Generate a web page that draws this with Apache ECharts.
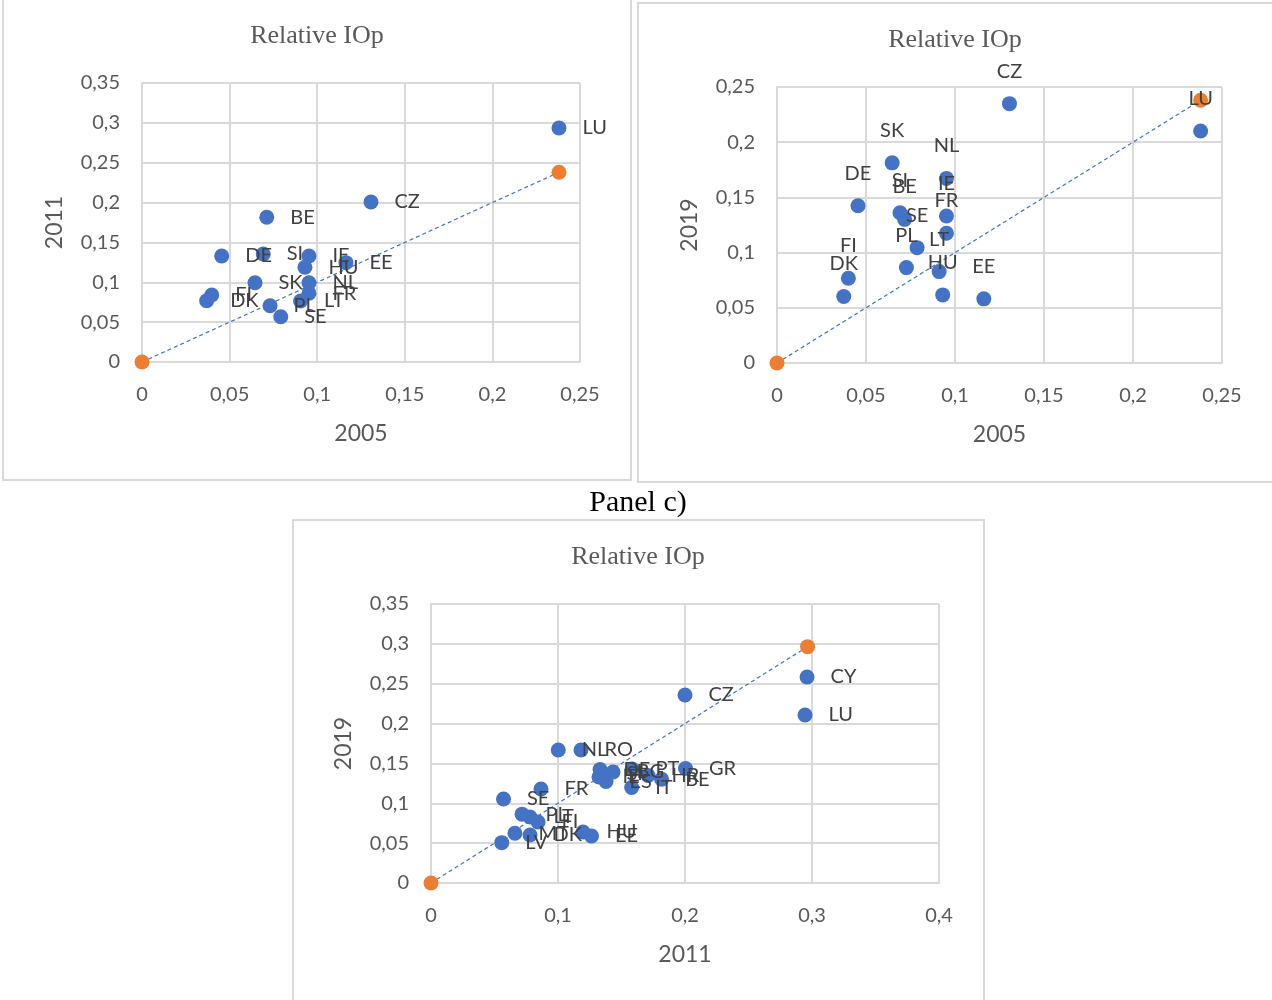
<!DOCTYPE html>
<html>
<head>
<meta charset="utf-8">
<script src="https://cdn.jsdelivr.net/npm/echarts@6/dist/echarts.min.js"></script>
<style>
html,body{margin:0;padding:0;background:#fff;}
#c{width:1272px;height:1000px;}
</style>
</head>
<body>
<div id="c"></div>
<script>
// Panel a) 2005 vs 2011
const countriesA = ['LU','CZ','BE','DE','SI','IE','HU','EE','SK','NL','FR','LT','PL','SE','FI','DK'];
const a2005 = [0.238,0.1307,0.0712,0.0455,0.0692,0.0953,0.0930,0.1164,0.0645,0.0953,0.0953,0.0905,0.0731,0.0792,0.0398,0.0369];
const a2011 = [0.2936,0.2008,0.1816,0.1330,0.1355,0.1330,0.1188,0.1246,0.0995,0.0995,0.0862,0.0765,0.0706,0.0568,0.0841,0.0769];
const refA = [[0,0],[0.238,0.238]];

// Panel b) 2005 vs 2019
const countriesB = ['CZ','LU','SK','NL','DE','SI','BE','IE','FR','SE','PL','LT','HU','EE','FI','DK'];
const b2005 = [0.1306,0.238,0.0647,0.0952,0.0455,0.0691,0.0717,0.0952,0.0952,0.0787,0.0727,0.0911,0.0931,0.1162,0.0401,0.0375];
const b2019 = [0.2349,0.2102,0.1813,0.1672,0.1425,0.1361,0.1301,0.1331,0.1175,0.1045,0.0864,0.0828,0.0617,0.0581,0.0768,0.0602];
const refB = [[0,0],[0.238,0.238]];

// Panel c) 2011 vs 2019
const countriesC = ['CY','LU','CZ','NL','RO','DE','SI','IE','ES','BG','PT','IT','HR','BE','GR','FR','SE','PL','LT','FI','DK','MT','LV','HU','EE'];
const c2011 = [0.2961,0.2945,0.2000,0.1002,0.1181,0.1331,0.1354,0.1323,0.1378,0.1433,0.1583,0.1580,0.1709,0.1816,0.2004,0.0866,0.0571,0.0717,0.0780,0.0843,0.0780,0.0661,0.0557,0.1197,0.1264];
const c2019 = [0.2585,0.2108,0.2359,0.1669,0.1669,0.1424,0.1368,0.1330,0.1274,0.1393,0.1430,0.1198,0.1349,0.1301,0.1437,0.1179,0.1054,0.0864,0.0828,0.0765,0.0602,0.0624,0.0506,0.0640,0.0590];
const refC = [[0,0],[0.2965,0.2965]];

const xTicksAB = [0,0.05,0.1,0.15,0.2,0.25];
const xTicksC = [0,0.1,0.2,0.3,0.4];

const BLUE = '#4472C4', ORANGE = '#ED7D31', GRID = '#d9d9d9', TXT = '#595959', LBL = '#404040';
const SANS = 'Lato, "Open Sans", sans-serif';
const SERIF = '"Liberation Serif", "DejaVu Serif", serif';

const fmt = v => parseFloat(Number(v).toFixed(4)).toString().replace('.', ',');

function xAxis(idx, ticks, name) {
  return {
    gridIndex: idx, type: 'value', min: ticks[0], max: ticks[ticks.length-1], interval: ticks[1]-ticks[0],
    name: name, nameLocation: 'middle', nameGap: 60,
    nameTextStyle: {fontFamily: SANS, fontSize: 23, color: TXT},
    axisLine: {show: true, onZero: false, lineStyle: {color: GRID, width: 2}},
    axisTick: {show: false},
    splitLine: {show: true, lineStyle: {color: GRID, width: 2}},
    axisLabel: {formatter: fmt, color: TXT, fontFamily: SANS, fontSize: 20, margin: 23}
  };
}
function yAxis(idx, max, interval, name) {
  return {
    gridIndex: idx, type: 'value', min: 0, max: max, interval: interval,
    name: name, nameLocation: 'middle', nameGap: 76, nameRotate: 90,
    nameTextStyle: {fontFamily: SANS, fontSize: 23, color: TXT},
    axisLine: {show: true, onZero: false, lineStyle: {color: GRID, width: 2}},
    axisTick: {show: false},
    splitLine: {show: true, lineStyle: {color: GRID, width: 2}},
    axisLabel: {formatter: fmt, color: TXT, fontFamily: SANS, fontSize: 20, margin: 22}
  };
}
function refLine(idx, data) {
  return {
    type: 'line', xAxisIndex: idx, yAxisIndex: idx, data: data,
    symbol: 'circle', symbolSize: 15, showSymbol: true,
    itemStyle: {color: ORANGE},
    lineStyle: {color: BLUE, width: 1.2, type: [4, 3]},
    z: 2, silent: true
  };
}
function pts(idx, names, xs, ys, pos, dist) {
  return {
    type: 'scatter', xAxisIndex: idx, yAxisIndex: idx,
    data: names.map((n, i) => ({name: n, value: [xs[i], ys[i]]})),
    symbolSize: 15, itemStyle: {color: BLUE, opacity: 1},
    label: {show: true, position: pos, distance: dist, formatter: '{b}',
            color: LBL, fontFamily: SANS, fontSize: 20},
    z: 3
  };
}
function txt(x, y, text, size, color, family) {
  return {type: 'text', x: x, y: y, silent: true,
    style: {text: text, fontSize: size, fill: color, fontFamily: family, textAlign: 'center', textVerticalAlign: 'middle'}};
}
function frame(x, y, w, h) {
  return {type: 'rect', shape: {x: x, y: y, width: w, height: h}, silent: true, z: -1,
    style: {fill: 'none', stroke: GRID, lineWidth: 2}};
}

const chart = echarts.init(document.getElementById('c'), null, {renderer: 'canvas'});
chart.setOption({
  animation: false,
  backgroundColor: '#fff',
  grid: [
    {left: 142, top: 83, width: 438, height: 279},
    {left: 777, top: 87, width: 445, height: 276},
    {left: 431, top: 604, width: 508, height: 279}
  ],
  xAxis: [xAxis(0, xTicksAB, '2005'), xAxis(1, xTicksAB, '2005'), xAxis(2, xTicksC, '2011')],
  yAxis: [yAxis(0, 0.35, 0.05, '2011'), yAxis(1, 0.25, 0.05, '2019'), yAxis(2, 0.35, 0.05, '2019')],
  graphic: [
    frame(3, -2, 628, 482),
    frame(638, 3, 640, 479),
    frame(293, 520, 691, 490),
    txt(317, 36, 'Relative IOp', 26, TXT, SERIF),
    txt(955, 40, 'Relative IOp', 26, TXT, SERIF),
    txt(638, 557, 'Relative IOp', 26, TXT, SERIF),
    txt(638, 503, 'Panel c)', 30, '#000', SERIF)
  ],
  series: [
    refLine(0, refA), pts(0, countriesA, a2005, a2011, 'right', 16),
    refLine(1, refB), pts(1, countriesB, b2005, b2019, 'top', 15),
    refLine(2, refC), pts(2, countriesC, c2011, c2019, 'right', 16)
  ]
});
</script>
</body>
</html>
